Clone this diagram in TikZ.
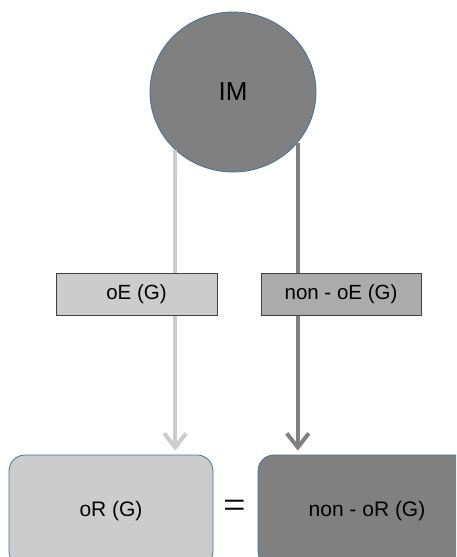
\documentclass[tikz,border=0pt]{standalone}
\usepackage{fontspec}
\setmainfont{Liberation Sans}
\newfontfamily\eqfont{Liberation Serif}
\usetikzlibrary{arrows.meta,shapes.geometric}
\definecolor{edgeblue}{HTML}{41719C}
\definecolor{lgray}{HTML}{CCCCCC}
\definecolor{mgray}{HTML}{ABABAB}
\definecolor{dgray}{HTML}{808080}
\begin{document}
\begin{tikzpicture}[x=1pt,y=-1pt,
  labelbox/.style={draw=black!75,line width=0.8pt,minimum width=160pt,minimum height=42pt,inner sep=0pt,font=\fontsize{20.5}{22}\selectfont},
  resultbox/.style={draw=edgeblue,line width=0.8pt,rounded corners=16pt,minimum height=112pt,inner sep=0pt,font=\fontsize{21}{23}\selectfont},
  flow/.style={line width=4pt,-{Straight Barb[length=14pt,width=22pt]},shorten >=4pt}]
\useasboundingbox (0,0) rectangle (456,557);
\clip (0,0) rectangle (456,557);
\node[ellipse,draw=edgeblue,line width=0.8pt,fill=dgray,minimum width=166pt,minimum height=160pt,inner sep=0pt,font=\fontsize{26}{28}\selectfont] (IM) at (233,92) {IM};
\node[resultbox,fill=lgray,minimum width=204pt] (oR) at (111,511) {oR (G)};
\node[resultbox,fill=dgray,minimum width=218pt] (noR) at (367,511) {non - oR (G)};
\node[font=\eqfont\fontsize{40}{40}\selectfont,inner sep=0pt] (eq) at (235,509) {=};
\draw[flow,lgray] (IM.225) -- (IM.225 |- oR.north);
\draw[flow,dgray] (IM.-38) -- (IM.-38 |- noR.north);
\node[labelbox,fill=lgray,minimum width=161pt] (oE) at (136.5,294) {oE (G)};
\node[labelbox,fill=mgray] (noE) at (341,294) {non - oE (G)};
\end{tikzpicture}
\end{document}
